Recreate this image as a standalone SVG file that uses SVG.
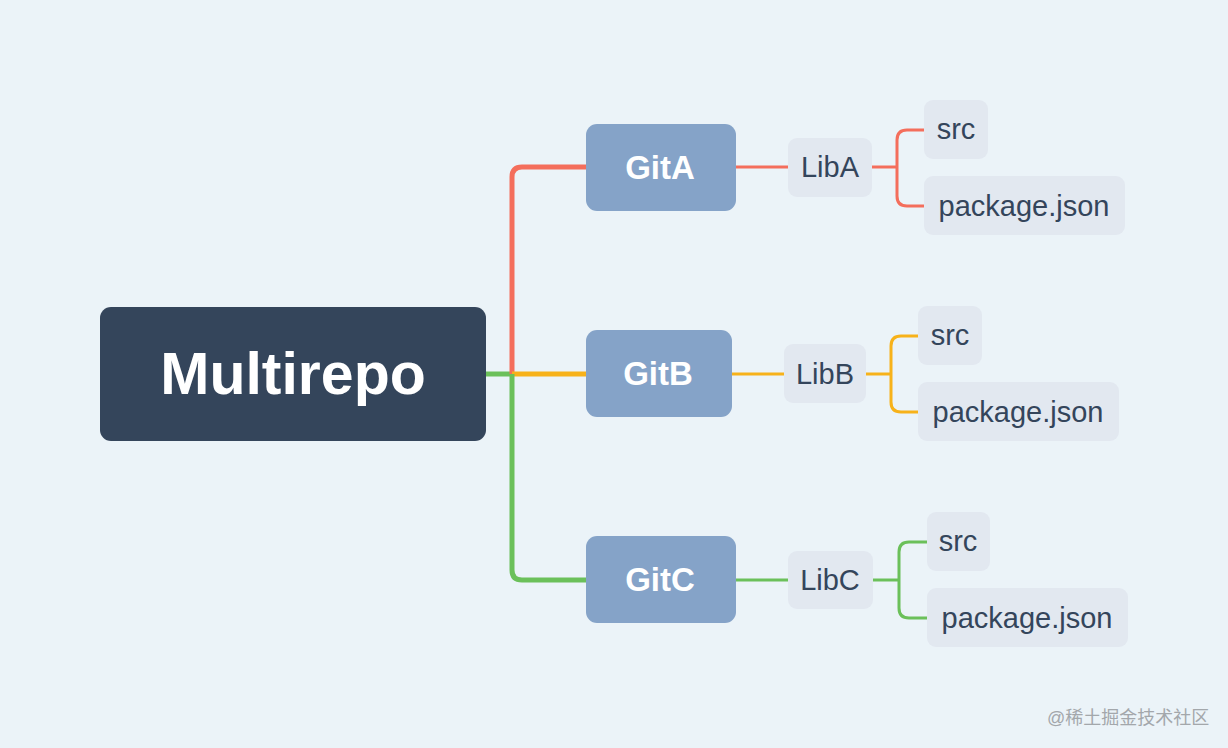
<svg xmlns="http://www.w3.org/2000/svg" width="1228" height="748" viewBox="0 0 1228 748">
<style>
.bg{fill:#ebf3f8}
.root{fill:#34455b}
.git{fill:#85a3c8}
.leaf{fill:#e2e8f0}
.rt{font-family:"Liberation Sans",Arial,sans-serif;font-weight:bold;font-size:59px;fill:#ffffff;text-anchor:middle}
.gt{font-family:"Liberation Sans",Arial,sans-serif;font-weight:bold;font-size:33px;fill:#ffffff;text-anchor:middle}
.lt{font-family:"Liberation Sans",Arial,sans-serif;font-size:29px;fill:#34455b;text-anchor:middle}
.wm{font-family:"Liberation Sans","Noto Sans CJK SC",sans-serif;font-size:18px;fill:#a3a7ab}
.c{fill:none;stroke-linecap:butt;stroke-linejoin:round}
.red{stroke:#f46e5c}
.yel{stroke:#f7b21a}
.grn{stroke:#6bc05a}
</style>
<rect class="bg" x="0" y="0" width="1228" height="748"/>
<g id="connectors">
  <path class="c grn" stroke-width="5" d="M486 374 H512"/>
  <path class="c red" stroke-width="5" d="M512 374 V177 Q512 167 522 167 H586"/>
  <path class="c yel" stroke-width="5" d="M512 374 H586"/>
  <path class="c grn" stroke-width="5" d="M512 374 V570 Q512 580 522 580 H586"/>
  <path class="c red" stroke-width="3" d="M736 167 H788"/>
  <path class="c red" stroke-width="3" d="M872 167 H897"/>
  <path class="c red" stroke-width="3" d="M924 130 H907 Q897 130 897 140 V196 Q897 206 907 206 H924"/>
  <path class="c yel" stroke-width="3" d="M732 374 H784"/>
  <path class="c yel" stroke-width="3" d="M866 374 H891"/>
  <path class="c yel" stroke-width="3" d="M918 336 H901 Q891 336 891 346 V402 Q891 412 901 412 H918"/>
  <path class="c grn" stroke-width="3" d="M736 580 H788"/>
  <path class="c grn" stroke-width="3" d="M873 580 H899"/>
  <path class="c grn" stroke-width="3" d="M927 542 H909 Q899 542 899 552 V608 Q899 618 909 618 H927"/>
</g>
<g id="root">
  <rect class="root" x="100" y="307" width="386" height="134" rx="11"/>
  <text class="rt" x="293" y="394">Multirepo</text>
</g>
<g id="gitA">
  <rect class="git" x="586" y="124" width="150" height="87" rx="11"/>
  <text class="gt" x="660" y="179">GitA</text>
</g>
<g id="gitB">
  <rect class="git" x="586" y="330" width="146" height="87" rx="11"/>
  <text class="gt" x="658" y="385">GitB</text>
</g>
<g id="gitC">
  <rect class="git" x="586" y="536" width="150" height="87" rx="11"/>
  <text class="gt" x="660" y="591">GitC</text>
</g>
<g id="libA">
  <rect class="leaf" x="788" y="138" width="84" height="59" rx="9"/>
  <text class="lt" x="830" y="177">LibA</text>
</g>
<g id="srcA">
  <rect class="leaf" x="924" y="100" width="64" height="59" rx="9"/>
  <text class="lt" x="956" y="139">src</text>
</g>
<g id="pkgA">
  <rect class="leaf" x="924" y="176" width="201" height="59" rx="9"/>
  <text class="lt" x="1024" y="216">package.json</text>
</g>
<g id="libB">
  <rect class="leaf" x="784" y="344" width="82" height="59" rx="9"/>
  <text class="lt" x="825" y="384">LibB</text>
</g>
<g id="srcB">
  <rect class="leaf" x="918" y="306" width="64" height="59" rx="9"/>
  <text class="lt" x="950" y="345">src</text>
</g>
<g id="pkgB">
  <rect class="leaf" x="918" y="382" width="201" height="59" rx="9"/>
  <text class="lt" x="1018" y="422">package.json</text>
</g>
<g id="libC">
  <rect class="leaf" x="788" y="551" width="85" height="58" rx="9"/>
  <text class="lt" x="830" y="590">LibC</text>
</g>
<g id="srcC">
  <rect class="leaf" x="927" y="512" width="63" height="59" rx="9"/>
  <text class="lt" x="958" y="551">src</text>
</g>
<g id="pkgC">
  <rect class="leaf" x="927" y="588" width="201" height="59" rx="9"/>
  <text class="lt" x="1027" y="628">package.json</text>
</g>
<text class="wm" x="1047" y="724">@稀土掘金技术社区</text>
</svg>
